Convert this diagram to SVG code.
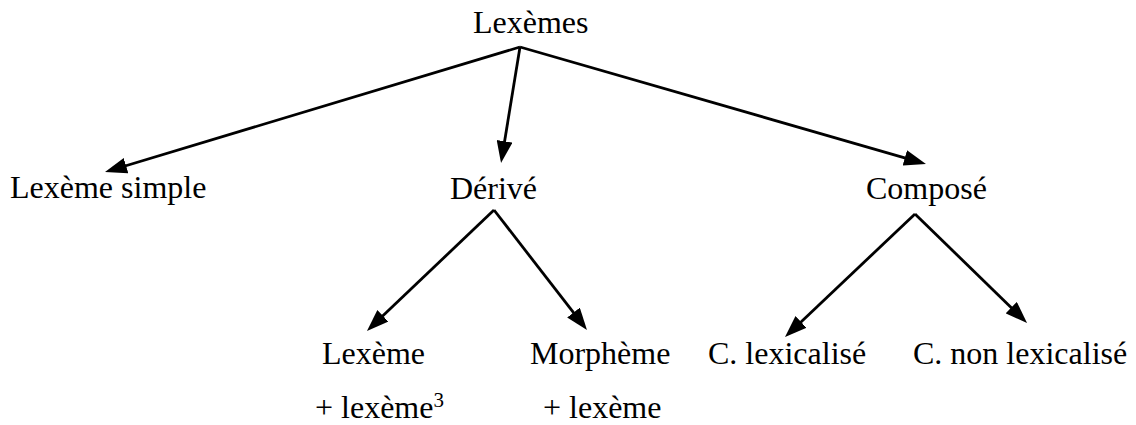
<svg xmlns="http://www.w3.org/2000/svg" width="1136" height="425" viewBox="0 0 1136 425">
  <style>
    text { font-family: "Liberation Serif", "Times New Roman", serif; font-size: 32px; fill: #000; }
    .edge { stroke: #000; stroke-width: 2.8; fill: none; marker-end: url(#head); }
    .sup { font-size: 21px; }
  </style>
  <defs>
    <marker id="head" markerUnits="userSpaceOnUse" markerWidth="22" markerHeight="16" refX="8" refY="8" orient="auto">
      <path d="M0,0 L22,8 L0,16 Z" fill="#000"/>
    </marker>
  </defs>
  <rect width="1136" height="425" fill="#fff"/>

  <g id="connectors">
    <line class="edge" x1="520" y1="47" x2="118.4" y2="168"/>
    <line class="edge" x1="520" y1="47" x2="503.3" y2="149.2"/>
    <line class="edge" x1="520" y1="47" x2="912.5" y2="160.1"/>
    <line class="edge" x1="494" y1="210" x2="377.1" y2="321.3"/>
    <line class="edge" x1="494" y1="210" x2="578.4" y2="318.9"/>
    <line class="edge" x1="915" y1="214" x2="795.2" y2="327.4"/>
    <line class="edge" x1="915" y1="214" x2="1017" y2="313.2"/>
  </g>

  <g id="lexemes"><text x="473" y="33">Lexèmes</text></g>
  <g id="lexeme-simple"><text x="10" y="198">Lexème simple</text></g>
  <g id="derive"><text x="450" y="199">Dérivé</text></g>
  <g id="compose"><text x="866" y="199">Composé</text></g>
  <g id="lexeme-lexeme">
    <text x="322" y="364">Lexème</text>
    <text x="315" y="418">+ lexème<tspan class="sup" dy="-11">3</tspan></text>
  </g>
  <g id="morpheme-lexeme">
    <text x="530" y="364">Morphème</text>
    <text x="543" y="418">+ lexème</text>
  </g>
  <g id="c-lexicalise"><text x="708" y="364">C. lexicalisé</text></g>
  <g id="c-non-lexicalise"><text x="913" y="364">C. non lexicalisé</text></g>
</svg>
